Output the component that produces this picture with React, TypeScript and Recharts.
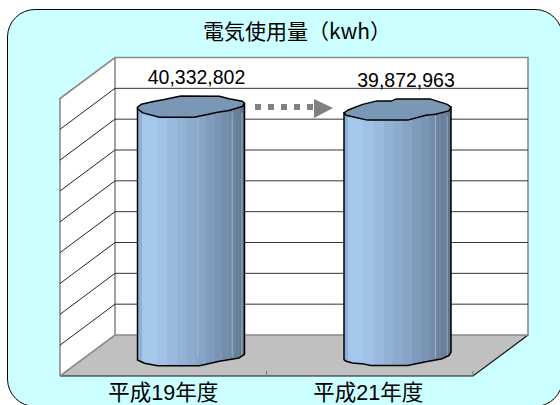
import React from "react";
import { Bar, BarChart, CartesianGrid, XAxis, YAxis, usePlotArea } from "recharts";

const categories = ["平成19年度", "平成21年度"];
const usage = [40332802, 39872963];
const axisMax = 45000000;
const axisStep = 5000000;
const title = "電気使用量（kwh）";

const rows = categories.map((name, i) => ({ name, usage: usage[i] }));
const yTicks = Array.from({ length: axisMax / axisStep + 1 }, (_, i) => i * axisStep);

// Oblique projection of the plot box: half of the depth on each axis.
const DX = 27.5;
const DY = 20.5;
const RY = 10.5;
const FONT_CJK = "'Noto Sans CJK JP', sans-serif";
const FONT_NUM = "'Liberation Sans', Arial, sans-serif";
const FONT_AXIS = "'Liberation Sans', 'Noto Sans CJK JP', sans-serif";

type Pt = [number, number];

// Hand-drawn look: each cylinder has its own uneven rim, in unit ellipse coordinates.
const rims: Pt[][] = [
  [[-1, 0.06], [-0.93, -0.24], [-0.68, -0.52], [-0.5, -0.7], [-0.19, -1.03], [0.53, -1], [0.71, -0.76], [0.96, -0.52], [1, -0.33], [0.96, -0.03], [0.71, 0.36], [0.5, 0.52], [0.06, 1], [-0.59, 1], [-0.9, 0.58], [-1, 0.2]],
  [[-1, 0.31], [-0.93, 0.06], [-0.78, -0.25], [-0.65, -0.5], [-0.4, -0.81], [-0.12, -0.81], [-0.03, -1], [0.62, -1], [0.93, -0.5], [1, -0.25], [0.96, 0.12], [0.71, 0.44], [0.53, 0.53], [0.19, 1], [-0.56, 1], [-0.78, 0.75], [-0.96, 0.53]],
];
const feet: Pt[][] = [
  [[-1, 0.43], [-0.87, 0.74], [-0.62, 0.98], [0.16, 0.98], [0.53, 0.55], [0.9, 0.23], [1, -0.1]],
  [[-1, 0.4], [-0.96, 0.55], [-0.84, 0.72], [-0.62, 0.82], [-0.5, 0.95], [0.19, 0.95], [0.53, 0.6], [0.84, 0.3], [0.96, 0], [1, -0.3]],
];
const glints = [[0.56, 0.88, 0.97], [0.85, 0.96]];
const labelShift = [5.5, 8.5];
const axisLabelShift = [0, -1.5];

const bandColors = ["#8fb0d6", "#a4c8ec", "#a0c2e6", "#99bade", "#92b2d5", "#8cabcd", "#86a4c5", "#809cbc", "#7a95b3", "#748dab", "#6e86a2", "#687e99", "#627690", "#5c6f87"];
const bandEdges = [0, 0.04, 0.18, 0.28, 0.37, 0.46, 0.55, 0.64, 0.72, 0.79, 0.86, 0.91, 0.96, 0.99, 1];

function Cylinder(props: any) {
  const { x, y, width, height, index } = props;
  const cx = x + width / 2;
  const rx = width / 2;
  const rim = rims[index].map(([u, v]) => `${cx + u * rx},${y + v * RY}`);
  const foot = feet[index].map(([u, v]) => `${cx + u * rx},${y + height + v * RY}`);
  const first = rims[index][0];
  const right = rims[index].reduce((a, b) => (b[0] > a[0] ? b : a));
  const body = `M${cx - rx},${y + first[1] * RY} L${foot.join(" L")} L${cx + rx},${y + right[1] * RY} Z`;
  return (
    <g>
      <path d={body} fill="url(#cylinderBands)" stroke="none" />
      {glints[index].map((g) => (
        <rect key={g} x={x + g * width} y={y + 6} width={1} height={height - 4} fill="#c4d6e8" opacity={0.55} />
      ))}
      <path d={body} fill="none" stroke="#000" strokeWidth={1.5} strokeLinejoin="round" />
      <path d={`M${rim.join(" L")} Z`} fill="#7a97b6" stroke="#000" strokeWidth={1.5} strokeLinejoin="round" />
    </g>
  );
}

function Shell() {
  const plot = usePlotArea();
  if (!plot) return null;
  const { x, y, width, height } = plot;
  const r = x + width;
  const b = y + height;
  return (
    <g>
      <polygon points={`${x + DX},${y - DY} ${r + DX},${y - DY} ${r + DX},${b - DY} ${x + DX},${b - DY}`} fill="#fff" />
      <polygon points={`${x - DX},${y + DY} ${x + DX},${y - DY} ${x + DX},${b - DY} ${x - DX},${b + DY}`} fill="#fff" />
      <polygon points={`${x - DX},${b + DY} ${x + DX},${b - DY} ${r + DX},${b - DY} ${r - DX},${b + DY}`} fill="#c0c0c0" />
    </g>
  );
}

function ShellEdges() {
  const plot = usePlotArea();
  if (!plot) return null;
  const { x, width, y, height } = plot;
  const r = x + width;
  const b = y + height;
  const mid = x - DX + width / 2;
  return (
    <g fill="none">
      <path d={`M${x - DX},${b + DY} L${r - DX},${b + DY} L${r + DX},${b - DY}`} stroke="#111" strokeWidth={1.2} />
      <path d={`M${mid},${b + DY - 5} V${b + DY} M${r - DX},${b + DY - 5} V${b + DY}`} stroke="#777" strokeWidth={1} />
    </g>
  );
}

// Wall outlines sit over the grid rows, but still under the cylinders.
function WallOutline(props: any) {
  const { x1, x2, yTop, yBottom } = props;
  return (
    <path
      d={`M${x1 - DX},${yBottom + DY} L${x1 - DX},${yTop + DY} L${x1 + DX},${yTop - DY} L${x2 + DX},${yTop - DY} L${x2 + DX},${yBottom - DY} L${x1 + DX},${yBottom - DY} L${x1 - DX},${yBottom + DY} M${x1 + DX},${yTop - DY} L${x1 + DX},${yBottom - DY}`}
      fill="none"
      stroke="#8a8a8a"
      strokeWidth={1.6}
    />
  );
}

function GridRow(props: any) {
  const { x1, x2, y1, index, offset } = props;
  const plot = offset ?? {};
  const top = plot.top ?? 78;
  const bottom = top + (plot.height ?? 277.5);
  return (
    <g fill="none">
      {y1 > top + 1 && y1 < bottom - 1 && (
        <>
          <line x1={x1 + DX} x2={x2 + DX} y1={y1 - DY} y2={y1 - DY} stroke="#333" strokeWidth={1} />
          <line x1={x1 - DX} x2={x1 + DX} y1={y1 + DY} y2={y1 - DY} stroke="#222" strokeWidth={1} />
        </>
      )}
      {index === 0 && <WallOutline x1={x1} x2={x2} yTop={top} yBottom={bottom} />}
    </g>
  );
}

function Arrow() {
  const squares = [258, 271, 284, 297, 310];
  return (
    <g fill="#808080">
      {squares.map((c) => (
        <rect key={c} x={c - 3} y={104} width={6} height={6} />
      ))}
      <polygon points="314,99 333,108 314,118" />
    </g>
  );
}

function HiddenTick() {
  return <g />;
}

function AxisLabel(props: any) {
  const { x, y, payload, index } = props;
  return (
    <text x={x - DX + axisLabelShift[index]} y={y + DY + 16.4} textAnchor="middle" fontFamily={FONT_AXIS} fontSize={21.5} fill="#000">
      {payload.value}
    </text>
  );
}

function ValueLabel(props: any) {
  const { x, y, width, value, index } = props;
  return (
    <text x={x + width / 2 + labelShift[index]} y={y - 23} textAnchor="middle" fontFamily={FONT_NUM} fontSize={19.5} fill="#000">
      {Number(value).toLocaleString("en-US")}
    </text>
  );
}

export default function App() {
  return (
    <div style={{ position: "absolute", left: 0, top: 0, width: 560, height: 405, overflow: "hidden", background: "#fff" }}>
      <div
        style={{
          position: "absolute",
          left: 6.5,
          top: 8.5,
          width: 556,
          height: 398,
          boxSizing: "border-box",
          background: "#ccffff",
          border: "1.5px solid #000",
          borderRadius: 28,
        }}
      />
      <div style={{ position: "absolute", left: 0, top: 0 }}>
        <BarChart
          width={560}
          height={405}
          data={rows}
          margin={{ top: 78, left: 86.5, right: 59.5, bottom: 48.5 }}
          barSize={107}
        >
          <defs>
            <linearGradient id="cylinderBands" x1="0" x2="1" y1="0" y2="0">
              {bandColors.flatMap((c, i) => [
                <stop key={`${i}a`} offset={bandEdges[i]} stopColor={c} />,
                <stop key={`${i}b`} offset={bandEdges[i + 1]} stopColor={c} />,
              ])}
            </linearGradient>
          </defs>
          <Shell />
          <CartesianGrid vertical={false} horizontal={GridRow as any} zIndex={1} />
          <ShellEdges />
          <XAxis dataKey="name" height={1} axisLine={false} tickLine={false} tick={AxisLabel as any} interval={0} />
          <YAxis width={1} domain={[0, axisMax]} ticks={yTicks} axisLine={false} tickLine={false} tick={HiddenTick as any} />
          <Bar dataKey="usage" isAnimationActive={false} shape={Cylinder as any} label={ValueLabel as any} />
          <Arrow />
          <text x={297} y={38.5} textAnchor="middle" fontFamily={FONT_CJK} fontSize={21} fill="#000">
            {title}
          </text>
        </BarChart>
      </div>
    </div>
  );
}
